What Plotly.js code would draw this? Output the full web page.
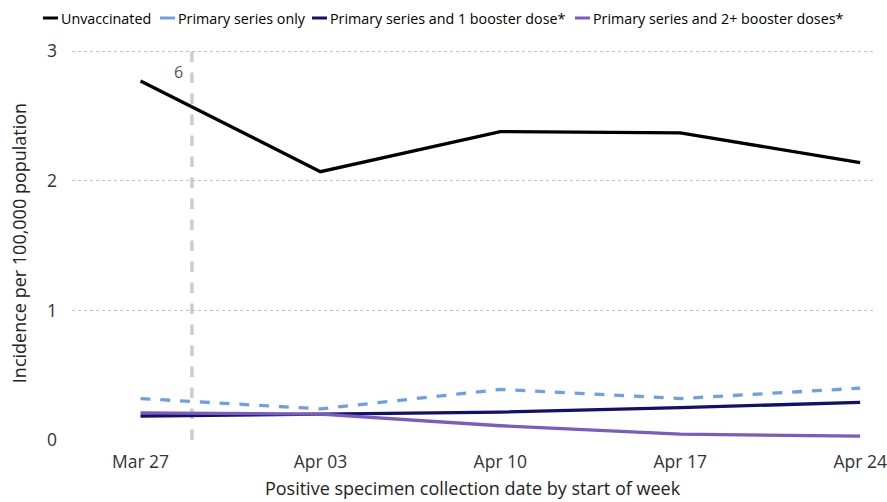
<!DOCTYPE html>
<html>
<head>
<meta charset="utf-8">
<script src="https://cdn.plot.ly/plotly-3.0.1.min.js"></script>
<style>html,body{margin:0;padding:0;background:#fff;}#chart{width:887px;height:502px;}</style>
</head>
<body>
<div id="chart"></div>
<script>
const weeks = ["2023-03-27", "2023-04-03", "2023-04-10", "2023-04-17", "2023-04-24"];
const tickLabels = ["Mar 27", "Apr 03", "Apr 10", "Apr 17", "Apr 24"];
const seriesNames = ["Unvaccinated", "Primary series only", "Primary series and 1 booster dose*", "Primary series and 2+ booster doses*"];
const unvaccinated = [2.77, 2.07, 2.38, 2.37, 2.14];
const primaryOnly = [0.32, 0.24, 0.39, 0.32, 0.40];
const oneBooster = [0.185, 0.20, 0.215, 0.25, 0.29];
const twoBooster = [0.21, 0.20, 0.11, 0.045, 0.03];
const markerDate = "2023-03-29";
const markerLabel = "6";

const font = "'Open Sans', 'Noto Sans', sans-serif";
const colors = ["#000000", "#6f9ee8", "#12106e", "#7a5cc0"];
const dashes = ["solid", "dash", "solid", "solid"];
const values = [unvaccinated, primaryOnly, oneBooster, twoBooster];

const traces = values.map((v, i) => ({
  x: weeks, y: v, name: seriesNames[i], mode: "lines",
  line: {color: colors[i], width: 3.3, dash: dashes[i]}, showlegend: false
}));

// layout geometry
const W = 887, H = 502, mL = 72, mR = 14, mT = 46, mB = 62;
const plotW = W - mL - mR, plotH = H - mT - mB;
const px2x = p => (p - mL) / plotW;
const px2y = p => 1 - (p - mT) / plotH;

// custom legend (short line symbols like the reference)
const legendStarts = [43, 160, 312, 575];
const legendY = 18;
const shapes = [];
const annotations = [];
legendStarts.forEach((s, i) => {
  shapes.push({type: "line", xref: "paper", yref: "paper",
    x0: px2x(s), x1: px2x(s + 15), y0: px2y(legendY), y1: px2y(legendY),
    line: {color: colors[i], width: 3}});
  annotations.push({xref: "paper", yref: "paper", x: px2x(s + 16), y: px2y(legendY),
    xanchor: "left", yanchor: "middle", showarrow: false, text: seriesNames[i],
    font: {family: font, size: 14.3, color: "#000"}});
});

shapes.push({
  type: "line", xref: "x", yref: "y", x0: markerDate, x1: markerDate, y0: 0, y1: 3,
  line: {color: "#cccccc", width: 3.5, dash: "dash"}, layer: "below"
});
annotations.push({
  x: markerDate, y: 2.98, xref: "x", yref: "y", text: markerLabel, showarrow: false,
  xanchor: "right", yanchor: "top", xshift: -7, yshift: -5,
  font: {family: font, size: 16, color: "#555"}
});

const layout = {
  width: W, height: H,
  margin: {l: mL, r: mR, t: mT, b: mB},
  paper_bgcolor: "#fff", plot_bgcolor: "#fff",
  font: {family: font, color: "#222", size: 15},
  showlegend: false,
  xaxis: {
    type: "date",
    range: ["2023-03-24 08:00", "2023-04-24 12:00"],
    tickvals: weeks, ticktext: tickLabels,
    showgrid: false, zeroline: false, showline: false,
    ticks: "", ticklabelstandoff: 9, tickfont: {family: font, size: 17.5, color: "#333"},
    title: {text: "Positive specimen collection date by start of week", font: {family: font, size: 18, color: "#222"}, standoff: 10}
  },
  yaxis: {
    range: [0, 3.04],
    tickvals: [0, 1, 2, 3],
    showgrid: true, gridcolor: "#c0c0c0", griddash: "dot", gridwidth: 1,
    zeroline: false, showline: false, ticks: "",
    ticklabelstandoff: 14,
    tickfont: {family: font, size: 17.5, color: "#333"},
    title: {text: "Incidence per 100,000 population", font: {family: font, size: 18, color: "#222"}, standoff: 15}
  },
  shapes: shapes,
  annotations: annotations
};

Plotly.newPlot("chart", traces, layout, {displayModeBar: false, staticPlot: true});
</script>
</body>
</html>
